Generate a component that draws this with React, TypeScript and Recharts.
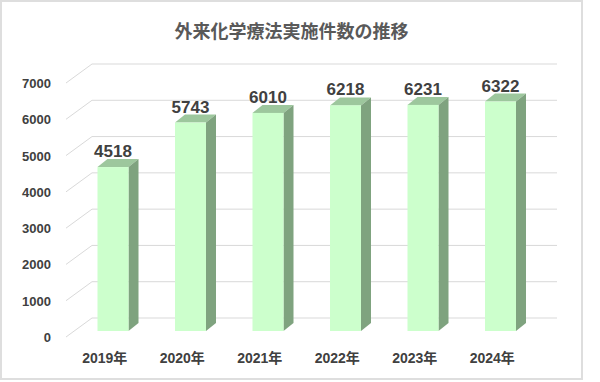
import { BarChart, Bar, XAxis, YAxis, CartesianGrid, LabelList } from 'recharts';

const years = ['2019年', '2020年', '2021年', '2022年', '2023年', '2024年'];
const counts = [4518, 5743, 6010, 6218, 6231, 6322];
const yTicks = [0, 1000, 2000, 3000, 4000, 5000, 6000, 7000];

const data = years.map((year, i) => ({ year, count: counts[i] }));

// perspective offsets: back wall vs front plane, bar depth position
const WALL_DX = 26;
const WALL_DY = -19;
const BAR_DX = 8.5;
const BAR_DY = -6;
const DEPTH_X = 10;
const DEPTH_Y = -8;

const FRONT = '#ccffcc';
const TOP = '#9dc79d';
const SIDE = '#7fa37f';
const GRID = '#d9d9d9';
const TEXT = '#404040';
const FONT = '"Liberation Sans", "Noto Sans CJK JP", sans-serif';

function GridLine(props: any) {
    const { x1, x2, y1 } = props;
    return (
        <g key={props.key ?? `g-${y1}`}>
            <line x1={x1} y1={y1} x2={x1 + WALL_DX} y2={y1 + WALL_DY} stroke={GRID} strokeWidth={1} />
            <line
                x1={x1 + WALL_DX}
                y1={y1 + WALL_DY}
                x2={x2 + WALL_DX}
                y2={y1 + WALL_DY}
                stroke={GRID}
                strokeWidth={1}
            />
        </g>
    );
}

function Bar3D(props: any) {
    const { x, y, width, height } = props;
    if (height == null || height <= 0) return null;
    const x0 = x + BAR_DX;
    const y0 = y + BAR_DY;
    const x1 = x0 + width;
    const y1 = y0 + height;
    const top = `${x0},${y0} ${x1},${y0} ${x1 + DEPTH_X},${y0 + DEPTH_Y} ${x0 + DEPTH_X},${y0 + DEPTH_Y}`;
    const side = `${x1},${y0} ${x1 + DEPTH_X},${y0 + DEPTH_Y} ${x1 + DEPTH_X},${y1 + DEPTH_Y} ${x1},${y1}`;
    return (
        <g>
            <polygon points={top} fill={TOP} />
            <polygon points={side} fill={SIDE} />
            <rect x={x0} y={y0} width={width} height={height} fill={FRONT} />
        </g>
    );
}

function ValueLabel(props: any) {
    const { x, y, width, value } = props;
    return (
        <text
            x={x + width / 2 + BAR_DX}
            y={y + BAR_DY - 10}
            textAnchor="middle"
            fill={TEXT}
            fontSize={17}
            fontWeight="bold"
            fontFamily={FONT}
        >
            {value}
        </text>
    );
}

function YTick(props: any) {
    const { y, payload } = props;
    return (
        <text x={51} y={y + 5} textAnchor="end" fill={TEXT} fontSize={13} fontWeight="bold" fontFamily={FONT}>
            {payload.value}
        </text>
    );
}

function XTick(props: any) {
    const { x, payload } = props;
    return (
        <text x={x} y={363} textAnchor="middle" fill={TEXT} fontSize={14} fontWeight="bold" fontFamily={FONT}>
            {payload.value}
        </text>
    );
}

export default function App() {
    return (
        <div style={{ position: 'absolute', left: 0, top: 0, width: 600, height: 382, background: '#fff' }}>
            <div
                style={{
                    position: 'absolute',
                    left: 0,
                    top: 0,
                    width: 583,
                    height: 380,
                    boxSizing: 'border-box',
                    border: '2px solid #dedede',
                }}
            />
            <div
                style={{
                    position: 'absolute',
                    left: 0,
                    top: 18,
                    width: 583,
                    textAlign: 'center',
                    fontFamily: '"Noto Sans CJK JP", sans-serif',
                    fontWeight: 'bold',
                    fontSize: 18,
                    color: '#595959',
                    lineHeight: '24px',
                }}
            >
                外来化学療法実施件数の推移
            </div>
            <div style={{ position: 'absolute', left: 0, top: 0 }}>
                <BarChart
                    width={600}
                    height={382}
                    data={data}
                    margin={{ top: 83, right: 69, left: 0, bottom: 15 }}
                >
                    <CartesianGrid vertical={false} horizontal={GridLine} />
                    <XAxis
                        dataKey="year"
                        height={30}
                        axisLine={false}
                        tickLine={false}
                        tick={XTick}
                        interval={0}
                    />
                    <YAxis
                        width={66}
                        domain={[0, 7000]}
                        ticks={yTicks}
                        axisLine={false}
                        tickLine={false}
                        tick={YTick}
                        interval={0}
                    />
                    <Bar dataKey="count" barSize={31} shape={Bar3D} isAnimationActive={false}>
                        <LabelList dataKey="count" content={ValueLabel} />
                    </Bar>
                </BarChart>
            </div>
        </div>
    );
}
